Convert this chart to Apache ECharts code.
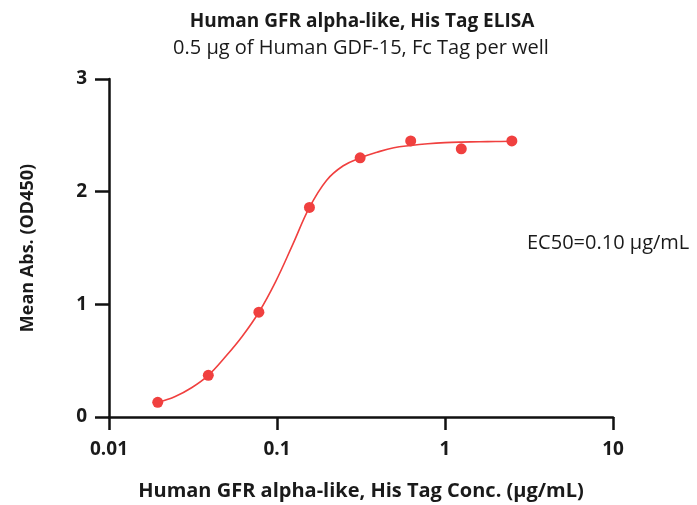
<!DOCTYPE html>
<html>
<head>
<meta charset="utf-8">
<script src="https://cdn.jsdelivr.net/npm/echarts@6/dist/echarts.min.js"></script>
<style>
html,body{margin:0;padding:0;background:#fff;}
#chart{width:697px;height:505px;}
</style>
</head>
<body>
<div id="chart"></div>
<script>
// Measured points (concentration µg/mL, mean absorbance OD450)
const concentrations = [0.0195, 0.039, 0.078, 0.156, 0.3125, 0.625, 1.25, 2.5];
const absorbances    = [0.13, 0.37, 0.93, 1.86, 2.30, 2.45, 2.38, 2.45];

// Fitted curve
const curveX = [0.0195, 0.0246, 0.031, 0.039, 0.049, 0.062, 0.078, 0.098, 0.124, 0.156, 0.197, 0.248, 0.3125, 0.394, 0.496, 0.625, 0.79, 1.0, 1.25, 1.6, 2.0, 2.5];
const curveY = [0.13, 0.18, 0.26, 0.37, 0.53, 0.715, 0.93, 1.20, 1.53, 1.86, 2.10, 2.23, 2.30, 2.35, 2.39, 2.41, 2.425, 2.435, 2.44, 2.443, 2.445, 2.447];

const xTicks = [0.01, 0.1, 1, 10];
const yTicks = [0, 1, 2, 3];

const titleText = 'Human GFR alpha-like, His Tag ELISA';
const subtitleText = '0.5 μg of Human GDF-15, Fc Tag per well';
const xName = 'Human GFR alpha-like, His Tag Conc. (μg/mL)';
const yName = 'Mean Abs. (OD450)';
const ec50Text = 'EC50=0.10 μg/mL';

const RED = '#f0403f';
const FONT = '"Open Sans", Lato, sans-serif';
const TXT = '#1a1a1a';

const chart = echarts.init(document.getElementById('chart'), null, {renderer: 'canvas'});
chart.setOption({
  backgroundColor: '#fff',
  animation: false,
  grid: {left: 109, right: 84, top: 79, bottom: 88, outerBoundsMode: 'none', containLabel: false},
  xAxis: {
    type: 'log', logBase: 10, min: xTicks[0], max: xTicks[xTicks.length - 1],
    name: xName, nameLocation: 'middle', nameGap: 64,
    nameTextStyle: {fontFamily: FONT, fontWeight: 'bold', fontSize: 20, color: TXT},
    axisLine: {onZero: false, lineStyle: {color: '#111', width: 2.5}},
    axisTick: {show: true, length: 13, lineStyle: {color: '#111', width: 2.5}},
    minorTick: {show: false},
    splitLine: {show: false},
    axisLabel: {
      margin: 23, fontFamily: FONT, fontWeight: 'bold', fontSize: 19, color: TXT,
      formatter: function (v) { return String(xTicks.find(t => Math.abs(Math.log10(t) - Math.log10(v)) < 1e-6) ?? v); }
    }
  },
  yAxis: {
    type: 'value', min: yTicks[0], max: yTicks[yTicks.length - 1], interval: 1,
    name: yName, nameLocation: 'middle', nameGap: 72, nameRotate: 90,
    nameTextStyle: {fontFamily: FONT, fontWeight: 'bold', fontSize: 18, color: TXT},
    axisLine: {show: true, lineStyle: {color: '#111', width: 2.5}},
    axisTick: {show: true, length: 14, lineStyle: {color: '#111', width: 2.5}},
    splitLine: {show: false},
    axisLabel: {margin: 22, fontFamily: FONT, fontWeight: 'bold', fontSize: 19, color: TXT}
  },
  graphic: [
    {type: 'text', x: 362, y: 12, style: {text: titleText, align: 'center', fontFamily: FONT, fontWeight: 'bold', fontSize: 19, fill: TXT}},
    {type: 'text', x: 361, y: 38, style: {text: subtitleText, align: 'center', fontFamily: FONT, fontSize: 20, fill: TXT}},
    {type: 'text', x: 527, y: 233, style: {text: ec50Text, fontFamily: FONT, fontSize: 20, fill: TXT}}
  ],
  series: [
    {
      type: 'line', data: curveX.map((x, i) => [x, curveY[i]]),
      smooth: 0.4, showSymbol: false, symbol: 'none',
      lineStyle: {color: RED, width: 1.6}, z: 2, silent: true
    },
    {
      type: 'scatter', data: concentrations.map((x, i) => [x, absorbances[i]]),
      symbol: 'circle', symbolSize: 11, itemStyle: {color: RED, opacity: 1}, z: 3
    }
  ]
});
</script>
</body>
</html>
